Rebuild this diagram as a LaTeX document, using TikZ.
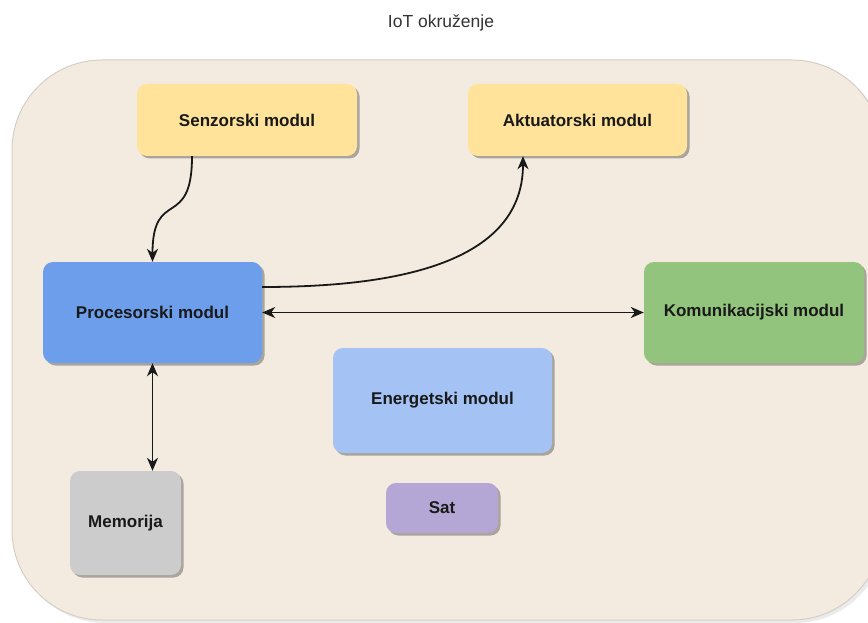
\documentclass[tikz,border=0pt]{standalone}
\usepackage{fontspec}
\setmainfont{Liberation Sans}
\usetikzlibrary{arrows.meta,shadows}

\definecolor{envfill}{RGB}{243,235,224}
\definecolor{envline}{RGB}{214,206,198}
\definecolor{senzfill}{HTML}{FFE39B}
\definecolor{procfill}{HTML}{6D9EEB}
\definecolor{komfill}{HTML}{93C47D}
\definecolor{enfill}{HTML}{A4C2F4}
\definecolor{satfill}{HTML}{B4A7D6}
\definecolor{memfill}{HTML}{CCCCCC}

\begin{document}
\begin{tikzpicture}[x=1pt,y=-1pt,
		modul/.style={rectangle,rounded corners=10pt,inner sep=0pt,
			font=\fontsize{17}{20}\selectfont\bfseries,text=black!90,
			drop shadow={shadow xshift=2.5pt,shadow yshift=-2.5pt,fill=black,opacity=0.3}},
		vrh/.tip={Stealth[length=13pt,width=11pt,inset=4pt]},
		veza/.style={line width=1.8pt,black!90,-vrh},
		dvoveza/.style={veza,vrh-vrh}]
			\useasboundingbox (0,0) rectangle (868,623);
			
			% okruzenje
			\fill[black,opacity=0.08,rounded corners=90pt] (15,63) rectangle (885,623);
			\draw[envline,fill=envfill,line width=1pt,rounded corners=90pt] (12,60) rectangle (882,620);
			\node (naslov) at (441,23) [font=\fontsize{17.5}{20}\selectfont,text=black!80] {IoT okruženje};
			
			\node (sen) at (247,120)   [modul,fill=senzfill,minimum width=220pt,minimum height=72pt] {Senzorski modul};
			\node (akt) at (577.5,120) [modul,fill=senzfill,minimum width=219pt,minimum height=72pt] {Aktuatorski modul};
			\node (pro) at (152.5,312.5) [modul,fill=procfill,minimum width=219pt,minimum height=101pt] {Procesorski modul};
			\node (kom) at (754,312.5) [modul,fill=komfill,minimum width=220pt,minimum height=101pt] {Komunikacijski modul};
			\node (ene) at (442.5,400.5) [modul,fill=enfill,minimum width=219pt,minimum height=105pt] {Energetski modul};
			\node (sat) at (442,508)   [modul,fill=satfill,minimum width=112pt,minimum height=50pt] {Sat};
			\node (mem) at (125.5,523) [modul,fill=memfill,minimum width=111pt,minimum height=104pt] {Memorija};
			
			\draw[veza] ([xshift=-55pt]sen.south) to[out=-90,in=90,looseness=1.7] (pro.north);
			\draw[veza] ([yshift=25.5pt]pro.east) to[out=0,in=-90] ([xshift=-54.5pt]akt.south);
			\draw[dvoveza] (pro.east) -- (kom.west);
			\draw[dvoveza] (pro.south) -- (pro.south |- mem.north);
		\end{tikzpicture}
\end{document}
